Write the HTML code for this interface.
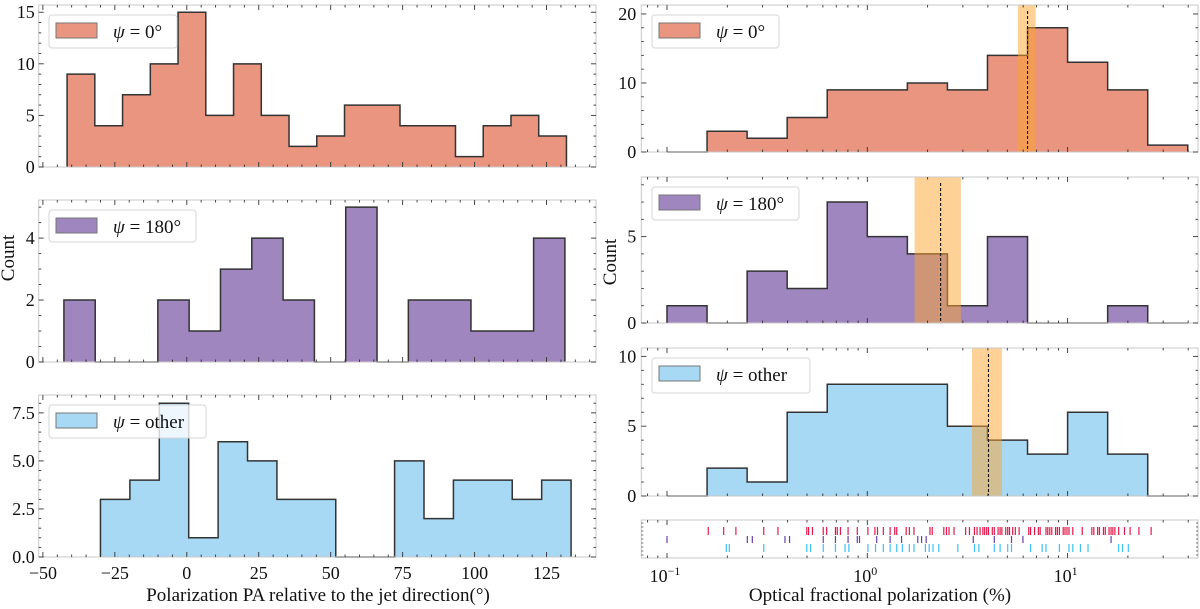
<!DOCTYPE html>
<html><head><meta charset="utf-8">
<style>
html,body{margin:0;padding:0;background:#fff;}
svg{display:block;}
svg text{font-family:"Liberation Serif","DejaVu Serif",serif;}
</style></head>
<body>
<svg id="fig" width="1200" height="609" viewBox="0 0 1200 609" xmlns="http://www.w3.org/2000/svg" font-family="Liberation Serif, serif"></svg>
<script>
// ---------- LEFT panels data (PA relative to jet, degrees) ----------
const leftPsi0Start = -41.6, leftPsi0Width = 9.64;
const leftPsi0Counts = [9,4,7,10,15,5,10,5,2,3,6,6,4,4,1,4,5,3];
const leftPsi180Start = -42.7, leftPsi180Width = 10.88;
const leftPsi180Counts = [2,0,0,2,1,3,4,2,0,5,0,2,2,1,1,4];
const leftOtherStart = -30.0, leftOtherWidth = 10.22;
const leftOtherCounts = [3,4,8,1,6,5,3,3,0,0,5,2,4,4,3,4];
const leftXTicks = [-50,-25,0,25,50,75,100,125];
const leftXTickLabels = ["\u221250","\u221225","0","25","50","75","100","125"];
const leftY0Ticks = [0,5,10,15];
const leftY1Ticks = [0,2,4];
const leftY2Ticks = [0,2.5,5,7.5];
const leftY2TickLabels = ["0.0","2.5","5.0","7.5"];

// ---------- RIGHT panels data (log10 of fractional polarization %) ----------
const rightBinStartLog = -1.0, rightBinWidthLog = 0.2;
const rightPsi0Counts = [0,3,2,5,9,9,10,9,14,18,13,9,1];
const rightPsi180Counts = [1,0,3,2,7,5,4,1,5,0,0,1,0];
const rightOtherCounts = [0,2,1,6,8,8,8,5,4,3,6,3,0];
const bandPsi0 = [0.752, 0.800, 0.840];   // low, median, high (log10)
const bandPsi180 = [0.236, 0.366, 0.467];
const bandOther = [0.523, 0.605, 0.672];
const rightY0Ticks = [0,10,20];
const rightY1Ticks = [0,5];
const rightY2Ticks = [0,5,10];
const rugLogPsi0 = [-0.794,-0.717,-0.656,-0.517,-0.446,-0.302,-0.293,-0.274,-0.220,-0.203,-0.159,-0.150,-0.134,-0.096,-0.050,0.003,0.038,0.051,0.080,0.114,0.137,0.147,0.194,0.210,0.233,0.313,0.324,0.382,0.395,0.408,0.433,0.491,0.510,0.535,0.548,0.563,0.577,0.586,0.596,0.605,0.624,0.634,0.653,0.663,0.672,0.691,0.701,0.710,0.726,0.739,0.758,0.806,0.815,0.835,0.854,0.863,0.892,0.901,0.911,0.921,0.940,0.949,0.959,0.978,0.987,0.997,1.007,1.026,1.073,1.121,1.131,1.150,1.159,1.179,1.188,1.207,1.217,1.226,1.236,1.255,1.284,1.312,1.356,1.417];
const rugLogPsi180 = [-1.000,-0.599,-0.574,-0.411,-0.388,-0.220,-0.159,-0.096,-0.050,-0.039,0.047,0.114,0.171,0.252,0.271,0.294,0.529,0.634,0.720,0.777,1.217];
const rugLogOther = [-0.704,-0.689,-0.517,-0.302,-0.283,-0.220,-0.159,-0.111,-0.092,0.003,0.041,0.080,0.114,0.147,0.175,0.210,0.233,0.290,0.309,0.328,0.357,0.452,0.535,0.557,0.634,0.663,0.701,0.720,0.815,0.873,0.892,0.959,1.007,1.026,1.064,1.102,1.255,1.274,1.303];
const rightXTickExps = [-1,0,1];

const NS = "http://www.w3.org/2000/svg";
const FONT = "Liberation Serif, DejaVu Serif, serif";
const svg = document.getElementById("fig");
function mk(tag, attrs, parent){
  const e = document.createElementNS(NS, tag);
  for (const k in attrs) e.setAttribute(k, attrs[k]);
  if (tag === "text") e.setAttribute("font-family", FONT);
  (parent||svg).appendChild(e);
  return e;
}
const C_SALMON="#e9957f", C_PURPLE="#9f86be", C_BLUE="#a7d8f4", C_EDGE="#333";

const LX0=38.7, LX1=596;
function lx(d){ return 186.8 + d*2.878; }
const RX0=641.3, RX1=1198;
function rx(l){ return 667 + (l+1)*200.3; }

function frame(g, x0,y0,x1,y1){
  const r = mk("rect",{x:x0,y:y0,width:x1-x0,height:y1-y0,fill:"none",stroke:"#c8c8c8","stroke-width":1},g);
  
  
}
function tick(g,x1,y1,x2,y2,w){
  mk("line",{x1:x1,y1:y1,x2:x2,y2:y2,stroke:"#333","stroke-width":w||0.9},g);
}
function hist(g, start, width, counts, xmap, ymap, color, name){
  let d = "M"+xmap(start)+","+ymap(0);
  counts.forEach((c,i)=>{
    const a = xmap(start+i*width), b = xmap(start+(i+1)*width);
    d += " L"+a+","+ymap(c)+" L"+b+","+ymap(c);
  });
  d += " L"+xmap(start+counts.length*width)+","+ymap(0);
  const f = mk("path",{d:d+" Z",fill:color,stroke:"none"},g);
  
  
  const o = mk("path",{d:d,fill:"none",stroke:C_EDGE,"stroke-width":1.5,"stroke-linejoin":"miter"},g);
  
  
  counts.forEach((c,i)=>{
    const a = xmap(start+i*width), b = xmap(start+(i+1)*width);
    const bar = mk("rect",{x:a,y:ymap(c),width:b-a,height:ymap(0)-ymap(c),fill:"none",stroke:"none"},g);
    
    
  });
}
function legend(g,x0,y0,x1,y1,color,label,name){
  const r = mk("rect",{x:x0,y:y0,width:x1-x0,height:y1-y0,rx:3,fill:"rgba(255,255,255,0.8)",stroke:"#d6d6d6","stroke-width":1},g);
  
  
  const p = mk("rect",{x:x0+7,y:y0+8,width:41,height:15,fill:color,stroke:"#777","stroke-width":1},g);
  
  
  const t = mk("text",{x:x0+64,y:y0+23,"font-size":19,fill:"#111"},g);
  
  
  const it = mk("tspan",{"font-style":"italic"},t); it.textContent="\u03c8";
  const rest = mk("tspan",{},t); rest.textContent=" = "+label;
}
function leftPanel(name, y0, y1, yTop, yticks, ylabels, minorStep, start, width, counts, color, leg, showXLabels){
  const g = mk("g",{});
  
  
  const ymap = v => y1 - v*(y1-y0)/yTop;
  hist(g,start,width,counts,lx,ymap,color,name+'-hist');
  frame(g,LX0,y0,LX1,y1);
  for(let d=-50; d<=140; d+=5){
    const X=lx(d); if(X<LX0||X>LX1) continue;
    const major = d%25===0, L = major?5:2.5;
    tick(g,X,y1,X,y1-L); tick(g,X,y0,X,y0+L);
  }
  for(let v=0; v<=yTop+1e-9; v+=minorStep){
    const Y=ymap(v);
    const major = yticks.some(t=>Math.abs(t-v)<1e-6), L=major?5:2.5;
    tick(g,LX0,Y,LX0+L,Y); tick(g,LX1,Y,LX1-L,Y);
  }
  yticks.forEach((v,i)=>{
    const t=mk("text",{x:LX0-4,y:ymap(v)+6,"text-anchor":"end","font-size":18,fill:"#111"},g);
    
    
    t.textContent = ylabels? ylabels[i] : String(v);
  });
  if(showXLabels){
    leftXTicks.forEach((d,i)=>{
      const t=mk("text",{x:lx(d),y:y1+22,"text-anchor":"middle","font-size":18,fill:"#111"},g);
      
      
      t.textContent=leftXTickLabels[i];
    });
  }
  legend(g,leg[0],leg[1],leg[2],leg[3],color,leg[4],name+'-legend');
}
leftPanel("left-panel-psi0",5,167,15.7,leftY0Ticks,null,1,leftPsi0Start,leftPsi0Width,leftPsi0Counts,C_SALMON,[49,15,177,48,"0\u00b0"],false);
leftPanel("left-panel-psi180",200,362,5.23,leftY1Ticks,null,0.5,leftPsi180Start,leftPsi180Width,leftPsi180Counts,C_PURPLE,[49,210,196,242,"180\u00b0"],false);
leftPanel("left-panel-other",395,557,8.43,leftY2Ticks,leftY2TickLabels,0.5,leftOtherStart,leftOtherWidth,leftOtherCounts,C_BLUE,[49,405,206,438,"other"],true);

function rightPanel(name,y0,y1,yTop,yticks,minorStep,counts,color,band,leg){
  const g = mk("g",{});
  
  
  const ymap = v => y1 - v*(y1-y0)/yTop;
  hist(g,rightBinStartLog,rightBinWidthLog,counts,rx,ymap,color,name+'-hist');
  const b = mk("rect",{x:rx(band[0]),y:y0,width:rx(band[2])-rx(band[0]),height:y1-y0,fill:"rgba(253,163,45,0.5)"},g);
  
  
  const m = mk("line",{x1:rx(band[1]),x2:rx(band[1]),y1:y0+6,y2:y1,stroke:"#111","stroke-width":1.1,"stroke-dasharray":"3,2"},g);
  
  
  frame(g,RX0,y0,RX1,y1);
  logTicks(g,y0,y1);
  for(let v=0; v<=yTop+1e-9; v+=minorStep){
    const Y=ymap(v);
    const major = yticks.some(t=>Math.abs(t-v)<1e-6), L=major?5:2.5;
    tick(g,RX0,Y,RX0+L,Y); tick(g,RX1,Y,RX1-L,Y);
  }
  yticks.forEach(v=>{
    const t=mk("text",{x:RX0-5,y:ymap(v)+6,"text-anchor":"end","font-size":18,fill:"#111"},g);
    
    
    t.textContent=String(v);
  });
  legend(g,leg[0],leg[1],leg[2],leg[3],color,leg[4],name+'-legend');
}
function logTicks(g,y0,y1){
  for(let e=-2;e<=2;e++){
    for(let k=1;k<10;k++){
      const l = e+Math.log10(k), X=rx(l);
      if(X<RX0||X>RX1) continue;
      const L = k===1?5:2.5;
      tick(g,X,y1,X,y1-L); tick(g,X,y0,X,y0+L);
    }
  }
}
rightPanel("right-panel-psi0",5,152,21.3,rightY0Ticks,2,rightPsi0Counts,C_SALMON,bandPsi0,[652,15,779,48,"0\u00b0"]);
rightPanel("right-panel-psi180",177,323,8.45,rightY1Ticks,1,rightPsi180Counts,C_PURPLE,bandPsi180,[652,187,799,220,"180\u00b0"]);
rightPanel("right-panel-other",348,496,10.6,rightY2Ticks,1,rightOtherCounts,C_BLUE,bandOther,[652,358,810,393,"other"]);

(function(){
  const g = mk("g",{});
  
  
  const y0=520,y1=558;
  frame(g,RX0,y0,RX1,y1);
  logTicks(g,y0,y1);
  for(let i=0;i<=8;i++){ const Y=y0+3+i*4; tick(g,RX0,Y,RX0+2,Y,0.7); tick(g,RX1,Y,RX1-2,Y,0.7); }
  const rows=[[rugLogPsi0,527,535,"#e3194c","rug-psi0"],[rugLogPsi180,536,543,"#6b3fa8","rug-psi180"],[rugLogOther,544,552,"#3ec1f2","rug-other"]];
  rows.forEach(r=>{
    r[0].forEach(l=>{
      const ln = mk("line",{x1:rx(l),x2:rx(l),y1:r[1],y2:r[2],stroke:r[3],"stroke-width":1.2},g);
      
      
    });
  });
  rightXTickExps.forEach(e=>{
    const t=mk("text",{x:rx(e)-2,y:582,"text-anchor":"middle","font-size":18,fill:"#111"},g);
    
    
    const a=mk("tspan",{},t); a.textContent="10";
    const s=mk("tspan",{dy:-7,"font-size":12},t); s.textContent=(e<0?"\u2212":"")+Math.abs(e);
  });
})();

function txt(x,y,s,name,extra){
  const t=mk("text",Object.assign({x:x,y:y,"text-anchor":"middle","font-size":19,fill:"#111"},extra||{}));
  
  
  t.textContent=s;
}
txt(318,601,"Polarization PA relative to the jet direction(\u00b0)","left-x-axis-title");
txt(880,601,"Optical fractional polarization (%)","right-x-axis-title");
txt(14,258,"Count","left-y-axis-title",{transform:"rotate(-90 14 258)"});
txt(616,262,"Count","right-y-axis-title",{transform:"rotate(-90 616 262)"});
</script>
</body></html>
